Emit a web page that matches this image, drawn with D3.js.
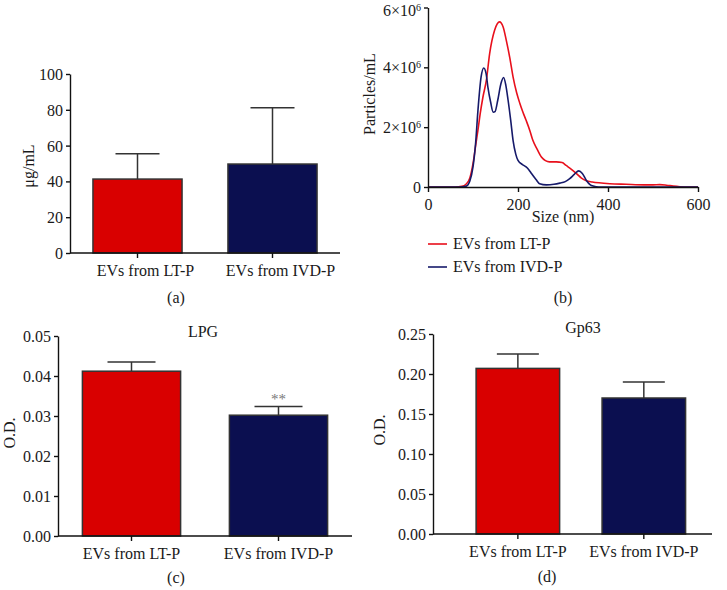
<!DOCTYPE html>
<html><head><meta charset="utf-8">
<script src="https://cdn.jsdelivr.net/npm/d3@7"></script>
<style>
body{margin:0;background:#fff;}
svg text{font-family:"Liberation Serif","DejaVu Serif",serif;fill:#1a1a1a;}
</style></head>
<body><svg id="c" width="727" height="590"></svg>
<script>
// ---------- data ----------
const categories = ["EVs from LT-P", "EVs from IVD-P"];
const barColors = ["#d90000", "#0b0f50"];

const proteinMean = [41.3, 49.7];          // (a) µg/mL
const proteinErr  = [55.5, 81.2];          // top of error bar
const proteinTicks = [0, 20, 40, 60, 80, 100];

const lpgMean = [0.0412, 0.0302];          // (c) O.D.
const lpgErr  = [0.0435, 0.0324];
const lpgTicks = [0, 0.01, 0.02, 0.03, 0.04, 0.05];
const lpgSig = ["", "**"];

const gp63Mean = [0.207, 0.170];           // (d) O.D.
const gp63Err  = [0.225, 0.190];
const gp63Ticks = [0, 0.05, 0.10, 0.15, 0.20, 0.25];

// (b) NTA size distribution, particles/mL in units of 10^6
const sizeLT  = [0,60,75,85,93,100,107,111,116,122,130,137,148,159,167,174,182,189,197,204,211,218,226,233,243,252,261,270,285,298,307,318,330,341,352,365,380,404,440,480,500,515,530,545,560,580,600];
const particlesLT = [0,0,0.02,0.1,0.3,0.78,1.5,1.9,2.45,3.0,3.6,4.46,5.24,5.52,5.35,4.9,4.3,3.68,3.15,2.8,2.5,2.23,1.9,1.56,1.25,1.0,0.88,0.84,0.84,0.82,0.72,0.6,0.45,0.3,0.21,0.17,0.14,0.11,0.09,0.07,0.07,0.08,0.06,0.03,0.01,0,0];
const sizeIVD = [0,70,85,93,100,106,111,118,124,129,133,139,145,149,155,162,168,173,178,184,189,195,200,210,218,224,230,240,248,263,280,293,305,315,325,335,343,352,360,367,380,600];
const particlesIVD = [0,0,0.03,0.2,0.67,1.5,2.56,3.68,3.98,3.8,3.35,2.85,2.5,2.52,2.9,3.45,3.66,3.4,2.9,2.2,1.56,1.1,0.89,0.75,0.67,0.58,0.45,0.25,0.11,0.07,0.09,0.13,0.18,0.28,0.42,0.54,0.45,0.22,0.08,0.03,0,0];
const sizeTicks = [0, 200, 400, 600];
const partTicks = [0, 2, 4, 6];
const seriesNames = ["EVs from LT-P", "EVs from IVD-P"];
const lineColors = ["#e8101c", "#161a6a"];

// ---------- drawing ----------
const svg = d3.select("#c");
const FS = 16;
const axisW = 1.4;

function styleAxis(g){
  g.select(".domain").attr("stroke","#111").attr("stroke-width",axisW);
  g.selectAll(".tick line").attr("stroke","#111").attr("stroke-width",axisW);
  g.selectAll(".tick text").attr("font-size",FS).attr("font-family","Liberation Serif").attr("fill","#1a1a1a");
}

function barPanel(o){
  const y = d3.scaleLinear().domain([o.ticks[0], o.ticks[o.ticks.length-1]]).range([o.y0, o.y1]);
  const x = d3.scaleBand().domain(categories).range([o.x0, o.x1])
      .paddingInner(o.pi).paddingOuter(o.po).align(o.align);
  const g = svg.append("g");
  // error bars (behind bars)
  categories.forEach((c,i)=>{
    const cx = x(c) + x.bandwidth()/2;
    g.append("line").attr("x1",cx).attr("x2",cx).attr("y1",y(o.mean[i])).attr("y2",y(o.err[i]))
      .attr("stroke","#333").attr("stroke-width",1.5);
    g.append("line").attr("x1",cx-o.cap).attr("x2",cx+o.cap).attr("y1",y(o.err[i])).attr("y2",y(o.err[i]))
      .attr("stroke","#333").attr("stroke-width",1.5);
  });
  g.selectAll("rect.bar").data(categories).join("rect")
    .attr("x", d=>x(d)).attr("width", x.bandwidth())
    .attr("y", (d,i)=>y(o.mean[i])).attr("height",(d,i)=>y(0)-y(o.mean[i]))
    .attr("fill",(d,i)=>barColors[i]).attr("stroke","#333").attr("stroke-width",1.5);
  // y axis
  const ya = g.append("g").attr("transform",`translate(${o.x0},0)`)
    .call(d3.axisLeft(y).tickValues(o.ticks).tickFormat(o.fmt).tickSize(4).tickPadding(3).tickSizeOuter(0));
  styleAxis(ya);
  ya.selectAll(".tick text").attr("dy","0.34em");
  // x axis
  const xa = g.append("g").attr("transform",`translate(0,${o.y0})`)
    .call(d3.axisBottom(x).tickSize(5).tickPadding(4).tickSizeOuter(0));
  styleAxis(xa);
  xa.select(".domain").attr("d",`M${o.x0},0H${o.x1}`);
  xa.selectAll(".tick text").attr("dy","0.85em").attr("dx", o.lshift || 0);
  // labels
  g.append("text").attr("transform",`translate(${o.ylx},${o.yly}) rotate(-90)`)
    .attr("text-anchor","middle").attr("font-size",FS).text(o.ylabel);
  if(o.title) g.append("text").attr("x",o.tx).attr("y",o.ty).attr("text-anchor","middle").attr("font-size",FS).text(o.title);
  g.append("text").attr("x",o.px).attr("y",o.py).attr("text-anchor","middle").attr("font-size",FS).text(o.plabel);
  if(o.sig){
    categories.forEach((c,i)=>{
      if(!o.sig[i]) return;
      g.append("text").attr("x",x(c)+x.bandwidth()/2).attr("y",y(o.err[i])-2)
        .attr("text-anchor","middle").attr("font-size",15).style("fill","#777").text(o.sig[i]);
    });
  }
}

// (a)
barPanel({mean:proteinMean, err:proteinErr, ticks:proteinTicks, fmt:d3.format("d"),
  x0:70, x1:340, y0:253, y1:74, pi:0.34, po:0.17, align:0.5, cap:22, lshift:8,
  ylabel:"μg/mL", ylx:34, yly:166, plabel:"(a)", px:176, py:303});
// (c)
barPanel({mean:lpgMean, err:lpgErr, ticks:lpgTicks, fmt:d3.format(".2f"),
  x0:58, x1:352, y0:536, y1:336, pi:0.332, po:0.166, align:0.5, cap:24,
  ylabel:"O.D.", ylx:15, yly:433, title:"LPG", tx:203, ty:337, plabel:"(c)", px:176, py:583, sig:lpgSig});
// (d)
barPanel({mean:gp63Mean, err:gp63Err, ticks:gp63Ticks, fmt:d3.format(".2f"),
  x0:433, x1:712, y0:534, y1:334, pi:0.337, po:0.276, align:0.62, cap:21,
  ylabel:"O.D.", ylx:385, yly:430, title:"Gp63", tx:583, ty:333, plabel:"(d)", px:547, py:582});

// (b) line chart
(function(){
  const x = d3.scaleLinear().domain([0,600]).range([428,698]);
  const y = d3.scaleLinear().domain([0,6]).range([187,7.5]);
  const g = svg.append("g");
  const line = d3.line().x(d=>x(d[0])).y(d=>y(d[1])).curve(d3.curveMonotoneX);
  const series = [d3.zip(sizeLT, particlesLT), d3.zip(sizeIVD, particlesIVD)];
  series.forEach((s,i)=>{
    g.append("path").datum(s).attr("d",line).attr("fill","none")
      .attr("stroke",lineColors[i]).attr("stroke-width",1.6);
  });
  const ya = g.append("g").attr("transform","translate(428,0)")
    .call(d3.axisLeft(y).tickValues(partTicks).tickSize(4).tickPadding(3).tickSizeOuter(0).tickFormat(()=>""));
  styleAxis(ya);
  ya.selectAll(".tick text").each(function(d){
    const t = d3.select(this).attr("dy","0.34em");
    if(d===0){ t.text("0"); return; }
    t.append("tspan").text(d+"×10");
    t.append("tspan").attr("font-size",10).attr("dy","-0.5em").text("6");
  });
  ya.selectAll(".tick").filter(d=>d===6).select("text").attr("dy","0.5em");
  const xa = g.append("g").attr("transform","translate(0,187)")
    .call(d3.axisBottom(x).tickValues(sizeTicks).tickSize(5).tickPadding(4).tickSizeOuter(0));
  styleAxis(xa);
  xa.selectAll(".tick text").attr("dy","0.85em");
  g.append("text").attr("x",563).attr("y",222).attr("text-anchor","middle").attr("font-size",FS).text("Size (nm)");
  g.append("text").attr("transform","translate(375,94) rotate(-90)").attr("text-anchor","middle").attr("font-size",FS).text("Particles/mL");
  seriesNames.forEach((n,i)=>{
    const ly = 244 + i*23;
    g.append("line").attr("x1",428).attr("x2",447).attr("y1",ly).attr("y2",ly).attr("stroke",lineColors[i]).attr("stroke-width",1.6);
    g.append("text").attr("x",453).attr("y",ly+5).attr("font-size",FS).text(n);
  });
  g.append("text").attr("x",563).attr("y",303).attr("text-anchor","middle").attr("font-size",FS).text("(b)");
})();
</script></body></html>
